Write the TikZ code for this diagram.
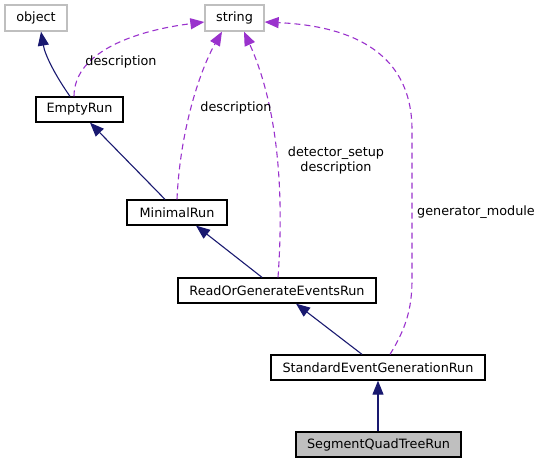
\documentclass[tikz,border=0pt]{standalone}
\usepackage{fontspec}
\setmainfont{DejaVu Sans}
\usetikzlibrary{arrows.meta}
\definecolor{navyc}{HTML}{191970}
\definecolor{purplec}{HTML}{9A32CD}
\definecolor{grayb}{HTML}{BFBFBF}
\begin{document}
\begin{tikzpicture}[x=1pt,y=-1pt,
  cls/.style={draw=black,line width=1.3pt,inner sep=0pt,font=\fontsize{12.8}{14}\selectfont},
  ext/.style={draw=grayb,line width=1.3pt,inner sep=0pt,font=\fontsize{12.8}{14}\selectfont},
  inh/.style={draw=navyc,line width=1.1pt,-{Triangle[length=14pt,width=11pt,fill=navyc]}},
  use/.style={draw=purplec,line width=1.1pt,dash pattern=on 6pt off 4pt,-{Triangle[length=14pt,width=11pt,fill=purplec]}},
  lbl/.style={font=\fontsize{12.8}{15}\selectfont,inner sep=0pt,align=center}]
\useasboundingbox (0,0) rectangle (543,464);
\node[ext,minimum width=62pt,minimum height=26pt] (object) at (36,18) {object};
\node[ext,minimum width=59pt,minimum height=26pt] (string) at (234.5,18) {string};
\node[cls,minimum width=87pt,minimum height=25pt] (empty) at (79.5,109.5) {EmptyRun};
\node[cls,minimum width=100pt,minimum height=25pt] (minimal) at (177,212.5) {MinimalRun};
\node[cls,minimum width=198pt,minimum height=25pt] (rog) at (277,290.5) {ReadOrGenerateEventsRun};
\node[cls,minimum width=214pt,minimum height=25pt] (seg) at (378,367.5) {StandardEventGenerationRun};
\node[cls,fill=grayb,minimum width=165pt,minimum height=25pt] (sqt) at (378.5,444.5) {SegmentQuadTreeRun};
% inheritance
\draw[inh] (empty.north -| 70,0) .. controls (55,75) and (45,55) .. (object.south -| 41,0);
\draw[inh] (minimal.north -| 165,0) -- (empty.south -| 90,0);
\draw[inh] (rog.north -| 262,0) -- (minimal.south -| 196,0);
\draw[inh] (seg.north -| 362,0) -- (rog.south -| 296,0);
\draw[inh] (sqt.north -| 378,0) -- (seg.south -| 378,0);
% usage
\draw[use] (empty.north -| 74,0) .. controls (74,50) and (140,30) .. (string.west |- 0,22);
\draw[use] (minimal.north -| 177,0) .. controls (180,130) and (200,70) .. (string.south -| 222,0);
\draw[use] (rog.north -| 278,0) .. controls (285,180) and (275,100) .. (string.south -| 244,0);
\draw[use] (seg.north -| 390,0) .. controls (405,330) and (412,310) .. (412,280) -- (412,130) .. controls (412,40) and (330,25) .. (string.east |- 0,22);
% labels
\node[lbl] (l1) at (121,62) {description};
\node[lbl] (l2) at (236,108) {description};
\node[lbl] (l3) at (336,160) {detector\_setup\\description};
\node[lbl] (l4) at (476,212) {generator\_module};
\end{tikzpicture}
\end{document}
